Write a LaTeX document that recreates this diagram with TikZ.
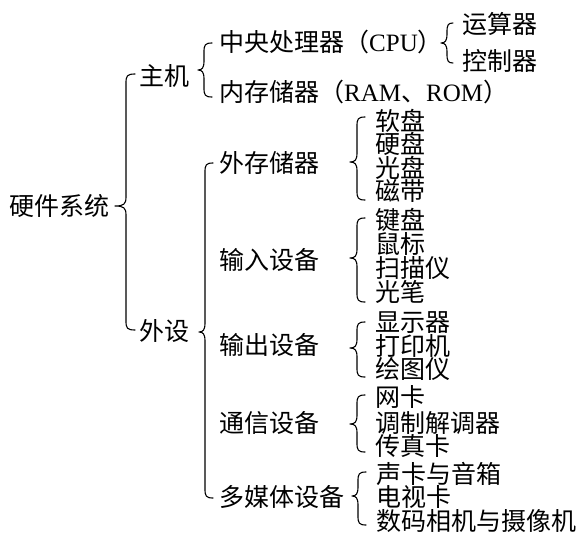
\documentclass[tikz,border=0pt]{standalone}
\usepackage{fontspec}
\setmainfont{Liberation Serif}
\newfontfamily\cjk{Noto Sans CJK SC}
\newcommand\lat[1]{{\rmfamily #1}}
% brace: xv, ytop, ybot, xtip, ytip, w
\newcommand\mybrc[6]{%
  \draw[brc] (#1+#6,#2) .. controls (#1+1,#2) and (#1,#2+2) .. (#1,#2+9) -- (#1,#5-9)
    .. controls (#1,#5-2) and (#1-2,#5) .. (#4,#5)
    .. controls (#1-2,#5) and (#1,#5+2) .. (#1,#5+9)
    -- (#1,#3-9) .. controls (#1,#3-2) and (#1+1,#3) .. (#1+#6,#3);}
\begin{document}
\begin{tikzpicture}[x=1pt,y=-1pt,
  t/.style={anchor=west,inner sep=0pt,text height=21pt,text depth=3.5pt,
            font=\cjk\fontsize{25}{25}\selectfont},
  brc/.style={line width=1.1pt,line cap=round,line join=round}]
\useasboundingbox[fill=white] (0,0) rectangle (579,533);
% level 1
\node[t] (hw) at (9,207) {硬件系统};
% level 2
\node[t] (zj) at (139,77) {主机};
\node[t] (ws) at (139,332) {外设};
% level 3 under 主机
\node[t] (cpu) at (219,43) {中央处理器（\lat{CPU}）};
\node[t] (ram) at (219,93) {内存储器（\lat{RAM}、\lat{ROM}）};
\node[t] (ysq) at (462,25) {运算器};
\node[t] (kzq) at (462,62) {控制器};
% level 3 under 外设
\node[t] (wcc) at (219,164) {外存储器};
\node[t] (srsb) at (219,261) {输入设备};
\node[t] (scsb) at (219,346) {输出设备};
\node[t] (txsb) at (219,424) {通信设备};
\node[t] (dmt) at (219,498) {多媒体设备};
% level 4
\node[t] (rp) at (375,122) {软盘};
\node[t] (yp) at (375,145) {硬盘};
\node[t] (gp) at (375,169) {光盘};
\node[t] (cd) at (375,192) {磁带};
\node[t] (jp) at (375,221) {键盘};
\node[t] (sb) at (375,245) {鼠标};
\node[t] (smy) at (375,269) {扫描仪};
\node[t] (gb) at (375,293) {光笔};
\node[t] (xsq) at (375,323) {显示器};
\node[t] (dyj) at (375,347) {打印机};
\node[t] (hty) at (375,370) {绘图仪};
\node[t] (wk) at (375,398) {网卡};
\node[t] (tzj) at (375,424) {调制解调器};
\node[t] (czk) at (375,447) {传真卡};
\node[t] (sk) at (376,475) {声卡与音箱};
\node[t] (dsk) at (376,498) {电视卡};
\node[t] (sm) at (376,522) {数码相机与摄像机};
% braces
\mybrc{126}{74}{330}{115}{206}{9}
\mybrc{204}{43}{97}{198}{70}{8}
\mybrc{205}{163}{498}{199}{332}{8}
\mybrc{447}{23}{63}{441}{43}{6}
\mybrc{357}{117}{200}{350}{162}{8}
\mybrc{357}{218}{302}{350}{258}{8}
\mybrc{357}{322}{377}{350}{348}{8}
\mybrc{357}{395}{452}{350}{424}{8}
\mybrc{358}{472}{525}{352}{496}{8}
\end{tikzpicture}
\end{document}
